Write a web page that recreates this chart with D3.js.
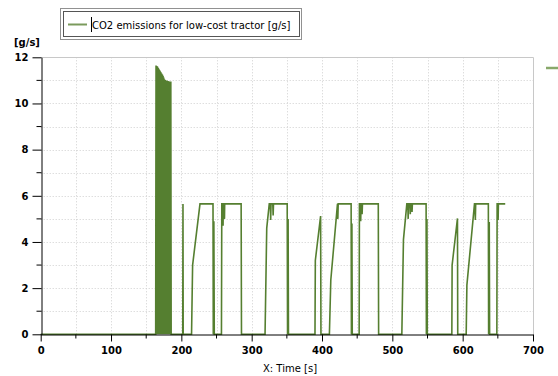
<!DOCTYPE html>
<html>
<head>
<meta charset="utf-8">
<script src="https://cdn.jsdelivr.net/npm/d3@7"></script>
<style>
  html, body { margin: 0; padding: 0; background: #fff; }
  svg { display: block; font-family: "DejaVu Sans", sans-serif; }
</style>
</head>
<body>
<svg id="chart" width="558" height="376"></svg>
<script>
// Simulation output: time [s] and CO2 emission rate [g/s], one line per operating burst
const timeS = [
  0, 163.5, 164, 164.5, 165, 165.5, 166, 166.5, 167, 167.5, 168, 168.5, 169, 169.5, 170, 170.5,
  171, 171.5, 172, 172.5, 173, 173.5, 174, 174.5, 175, 175.5, 176, 176.5, 177, 177.5, 178, 178.5,
  179, 179.5, 180, 180.5, 181, 181.5, 182, 182.5, 183, 183.5, 184, 184.5, 185, 185.5,
  202, 202.3, 202.6,
  214.5, 216, 226.5, 245, 245.4, 246.2, 246.8,
  257, 257.5, 259, 259.3, 259.6, 261, 261.3, 261.6, 285, 285.5,
  319, 321.4, 325, 326.5, 327, 327.5, 330, 330.5, 331, 350.5, 351, 351.8, 352.3,
  390, 390.5, 398, 398.5,
  410.5, 412.5, 422, 422.5, 423, 441.4, 441.8, 442.5, 443,
  452.8, 453.2, 454.5, 455, 455.5, 456.5, 457, 457.5, 480, 480.5,
  513.5, 515.8, 520.6, 522, 522.5, 523, 525, 525.5, 526, 527.5, 528, 528.5, 548, 548.4, 549.2, 549.7,
  584.6, 585, 592.6, 593,
  605, 606, 616.8, 617.5, 618, 618.5, 636.5, 636.9, 637.8, 638.3,
  648.6, 649, 650, 650.4, 650.8, 660.5
];
const co2Rate = [
  0, 0, 11.65, 0, 11.62, 0, 11.6, 0, 11.55, 0, 11.5, 0, 11.45, 0, 11.4, 0,
  11.35, 0, 11.3, 0, 11.25, 0, 11.2, 0, 11.12, 0, 11.05, 0, 11.02, 0, 11.0, 0,
  10.99, 0, 10.98, 0, 10.97, 0, 10.96, 0, 10.95, 0, 10.95, 0, 10.95, 0,
  0, 5.65, 0,
  0, 3.0, 5.65, 5.65, 0, 4.9, 0,
  0, 5.65, 5.65, 4.7, 5.65, 5.65, 5.0, 5.65, 5.65, 0,
  0, 4.6, 5.65, 5.65, 4.95, 5.65, 5.65, 5.15, 5.65, 5.65, 0, 5.0, 0,
  0, 3.2, 5.12, 0,
  0, 2.35, 5.65, 5.0, 5.65, 5.65, 0, 4.8, 0,
  0, 5.65, 5.65, 4.9, 5.65, 5.65, 5.2, 5.65, 5.65, 0,
  0, 4.1, 5.65, 5.65, 5.0, 5.65, 5.65, 5.2, 5.65, 5.65, 5.3, 5.65, 5.65, 0, 5.0, 0,
  0, 3.0, 5.02, 0,
  0, 2.13, 5.65, 5.65, 4.95, 5.65, 5.65, 0, 4.87, 0,
  0, 5.65, 5.65, 4.95, 5.65, 5.65
];

const xMajorTicks = [0, 100, 200, 300, 400, 500, 600, 700];
const xMinorTicks = [50, 150, 250, 350, 450, 550, 650];
const yMajorTicks = [0, 2, 4, 6, 8, 10, 12];
const yMinorTicks = [1, 3, 5, 7, 9, 11];

const seriesName = "CO2 emissions for low-cost tractor [g/s]";
const yUnit = "[g/s]";
const xTitle = "X: Time [s]";

const lineColor = "#557f30";

const svg = d3.select("#chart");
const x = d3.scaleLinear().domain([0, 700]).range([40.7, 533]);
const y = d3.scaleLinear().domain([0, 12]).range([334.3, 57.3]);

// dotted grid at every major and minor tick
const grid = svg.append("g").attr("stroke", "#cfcfcf").attr("stroke-dasharray", "1,2").attr("stroke-width", 1);
grid.selectAll("line.gx").data(xMajorTicks.concat(xMinorTicks).filter(d => d > 0 && d < 700))
  .enter().append("line")
  .attr("x1", d => Math.round(x(d)) + 0.5).attr("x2", d => Math.round(x(d)) + 0.5)
  .attr("y1", y(12)).attr("y2", y(0));
grid.selectAll("line.gy").data(yMajorTicks.concat(yMinorTicks).filter(d => d > 0 && d < 12))
  .enter().append("line")
  .attr("x1", x(0)).attr("x2", x(700))
  .attr("y1", d => Math.round(y(d)) + 0.5).attr("y2", d => Math.round(y(d)) + 0.5);

// light frame on top and right
svg.append("path")
  .attr("d", `M${x(0)},${Math.round(y(12)) + 0.5}H${Math.round(x(700)) + 0.5}V${y(0)}`)
  .attr("fill", "none").attr("stroke", "#c8c8c8");

// data line
const pts = timeS.map((t, i) => [t, co2Rate[i]]);
svg.append("path")
  .datum(pts)
  .attr("fill", "none")
  .attr("stroke", lineColor)
  .attr("stroke-width", 1.6)
  .attr("stroke-linejoin", "miter")
  .attr("d", d3.line().x(d => x(d[0])).y(d => y(d[1])));

// axes
const tickFont = "bold 10px 'DejaVu Sans', sans-serif";
const xAxis = svg.append("g").attr("transform", `translate(0,${Math.round(y(0)) + 0.5})`)
  .call(d3.axisBottom(x).tickValues(xMajorTicks).tickSize(7).tickSizeOuter(0).tickPadding(5).tickFormat(d3.format("d")));
xAxis.selectAll("text").style("font", tickFont).attr("fill", "#000");
xAxis.append("g").selectAll("line").data(xMinorTicks).enter().append("line")
  .attr("x1", d => x(d)).attr("x2", d => x(d)).attr("y1", 0).attr("y2", 4).attr("stroke", "#000");
xAxis.select(".domain").attr("stroke", "#000");

const yAxis = svg.append("g").attr("transform", `translate(${Math.round(x(0)) + 0.5},0)`)
  .call(d3.axisLeft(y).tickValues(yMajorTicks).tickSize(9).tickSizeOuter(0).tickPadding(4).tickFormat(d3.format("d")));
yAxis.selectAll("text").style("font", tickFont).attr("fill", "#000");
yAxis.append("g").selectAll("line").data(yMinorTicks).enter().append("line")
  .attr("x1", -5).attr("x2", 0).attr("y1", d => y(d)).attr("y2", d => y(d)).attr("stroke", "#000");
yAxis.select(".domain").attr("stroke", "#000");

// unit label and axis title
svg.append("text").attr("x", 14).attr("y", 46).text(yUnit)
  .style("font", "bold 10px 'DejaVu Sans', sans-serif");
svg.append("text").attr("x", 290).attr("y", 372).attr("text-anchor", "middle").text(xTitle)
  .style("font", "10px 'DejaVu Sans', sans-serif");

// legend
const lg = svg.append("g");
lg.append("rect").attr("x", 60.5).attr("y", 8.5).attr("width", 241).attr("height", 31)
  .attr("fill", "none").attr("stroke", "#222").attr("stroke-dasharray", "1,1");
lg.append("rect").attr("x", 63.5).attr("y", 11.5).attr("width", 236).attr("height", 25)
  .attr("fill", "#fff").attr("stroke", "#555");
lg.append("line").attr("x1", 68).attr("x2", 87).attr("y1", 24.5).attr("y2", 24.5)
  .attr("stroke", "#7a9a5c").attr("stroke-width", 2);
lg.append("line").attr("x1", 91.5).attr("x2", 91.5).attr("y1", 17).attr("y2", 32).attr("stroke", "#000");
lg.append("text").attr("x", 92).attr("y", 28.5).text(seriesName)
  .style("font", "10px 'DejaVu Sans', sans-serif");

// right-hand legend key
svg.append("line").attr("x1", 546).attr("x2", 558).attr("y1", 68).attr("y2", 68)
  .attr("stroke", "#88a86a").attr("stroke-width", 2.5);
</script>
</body>
</html>
